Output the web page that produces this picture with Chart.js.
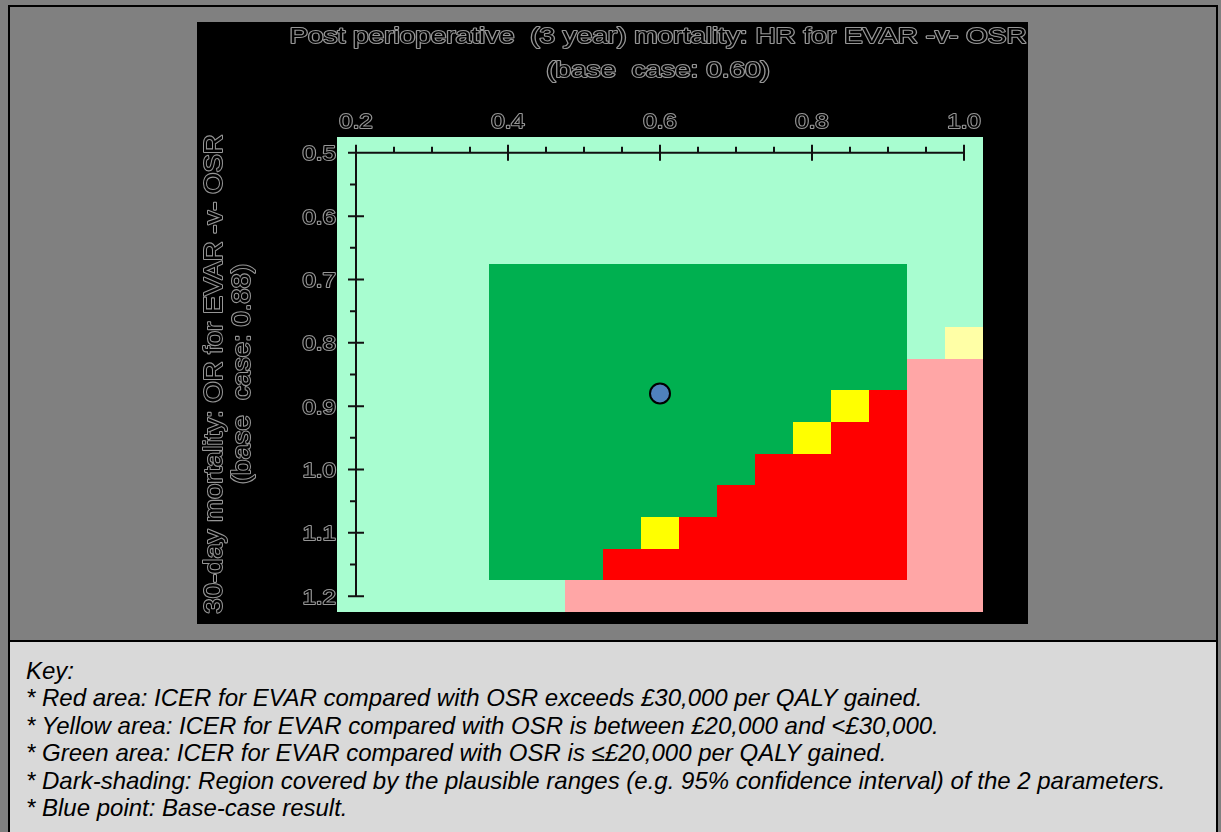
<!DOCTYPE html>
<html>
<head>
<meta charset="utf-8">
<script src="https://cdn.jsdelivr.net/npm/chart.js@4.4.0/dist/chart.umd.min.js"></script>
<style>
    html, body {
        margin: 0;
        padding: 0;
        width: 1221px;
        height: 832px;
        overflow: hidden;
        background: #808080;
        font-family: Arial, "Liberation Sans", sans-serif;
    }
    #frame {
        position: absolute;
        left: 8px;
        top: 5px;
        width: 1210px;
        height: 900px;
        box-sizing: border-box;
        border: 2px solid #000;
        background: #808080;
    }
    #chartBox {
        position: absolute;
        left: 197px;
        top: 22px;
        width: 831px;
        height: 602px;
        background: #000;
    }
    #key {
        position: absolute;
        left: 10px;
        top: 640px;
        width: 1206px;
        height: 200px;
        background: #d9d9d9;
        border-top: 2px solid #000;
        box-sizing: border-box;
        padding: 14.5px 0 0 16px;
        font-style: italic;
        font-size: 24px;
        line-height: 27.6px;
        color: #000;
        white-space: nowrap;
    }
</style>
</head>
<body>
<div id="frame"></div>
<div id="chartBox"><canvas id="chart" width="831" height="602"></canvas></div>
<div id="key">
    Key:<br>
    * Red area: ICER for EVAR compared with OSR exceeds £30,000 per QALY gained.<br>
    * Yellow area: ICER for EVAR compared with OSR is between £20,000 and &lt;£30,000.<br>
    * Green area: ICER for EVAR compared with OSR is ≤£20,000 per QALY gained.<br>
    * Dark-shading: Region covered by the plausible ranges (e.g. 95% confidence interval) of the 2 parameters.<br>
    * Blue point: Base-case result.
</div>
<script>
// Valores de los ejes (centros de las celdas)
const xValues = [0.2, 0.25, 0.3, 0.35, 0.4, 0.45, 0.5, 0.55, 0.6, 0.65, 0.7, 0.75, 0.8, 0.85, 0.9, 0.95, 1.0];
const yValues = [0.5, 0.55, 0.6, 0.65, 0.7, 0.75, 0.8, 0.85, 0.9, 0.95, 1.0, 1.05, 1.1, 1.15, 1.2];

// Etiquetas de los ejes
const xTicks = [0.2, 0.4, 0.6, 0.8, 1.0];
const yTicks = [0.5, 0.6, 0.7, 0.8, 0.9, 1.0, 1.1, 1.2];

// Resultado de cada celda, una fila por valor de y
// g = verde, y = amarillo, r = rojo; mayúscula = zona sombreada (rango plausible)
const cellRows = [
    'ggggggggggggggggg',
    'ggggggggggggggggg',
    'ggggggggggggggggg',
    'ggggggggggggggggg',
    'ggggGGGGGGGGGGGgg',
    'ggggGGGGGGGGGGGgg',
    'ggggGGGGGGGGGGGgy',
    'ggggGGGGGGGGGGGrr',
    'ggggGGGGGGGGGYRrr',
    'ggggGGGGGGGGYRRrr',
    'ggggGGGGGGGRRRRrr',
    'ggggGGGGGGRRRRRrr',
    'ggggGGGGYRRRRRRrr',
    'ggggGGGRRRRRRRRrr',
    'ggggggrrrrrrrrrrr'
];

// Caso base
const baseX = [0.60];
const baseY = [0.88];

// Textos
const titleLines = ['Post perioperative  (3 year) mortality: HR for EVAR -v- OSR', '(base  case: 0.60)'];
const yTitleLines = ['30-day mortality: OR for EVAR -v- OSR', '(base  case: 0.88)'];

const cellColors = {
    g: '#a8fdd0',
    G: '#00b050',
    y: '#ffffa6',
    Y: '#ffff00',
    r: '#ffa6a6',
    R: '#ff0000'
};

// Texto hueco: contorno gris con relleno negro
function outlinedText(ctx, text, x, y, size, stretch, align, rotate) {
    ctx.save();
    ctx.translate(x, y);
    if (rotate) ctx.rotate(rotate);
    ctx.scale(stretch, 1);
    ctx.font = size + 'px Arial, "Liberation Sans", sans-serif';
    ctx.textAlign = align;
    ctx.textBaseline = 'alphabetic';
    ctx.lineJoin = 'round';
    ctx.lineWidth = 2;
    ctx.strokeStyle = '#969696';
    ctx.strokeText(text, 0, 0);
    ctx.fillStyle = '#000';
    ctx.fillText(text, 0, 0);
    ctx.restore();
}

const heatmapPlugin = {
    id: 'heatmap',
    beforeDatasetsDraw(chart) {
        const ctx = chart.ctx;
        const xs = chart.scales.x;
        const ys = chart.scales.y;
        const area = chart.chartArea;

        // Títulos
        titleLines.forEach((t, i) => outlinedText(ctx, t, 461, 21 + i * 34, 21.5, 1.3, 'center'));
        yTitleLines.forEach((t, i) => outlinedText(ctx, t, 25 + i * 28, 352, 25, 1.1, 'center', -Math.PI / 2));

        // Etiquetas de los ejes
        xTicks.forEach(v => outlinedText(ctx, v.toFixed(1), xs.getPixelForValue(v), 106, 21, 1.15, 'center'));
        yTicks.forEach(v => outlinedText(ctx, v.toFixed(1), area.left - 1, ys.getPixelForValue(v) + 7.5, 21, 1.15, 'right'));

        // Celdas
        const hx = (xValues[1] - xValues[0]) / 2;
        const hy = (yValues[1] - yValues[0]) / 2;
        ctx.save();
        cellRows.forEach((row, i) => {
            const yv = yValues[i];
            const y0 = Math.round(ys.getPixelForValue(yv - hy));
            const y1 = Math.round(ys.getPixelForValue(yv + hy));
            row.split('').forEach((code, j) => {
                const xv = xValues[j];
                const x0 = Math.round(xs.getPixelForValue(xv - hx));
                const x1 = Math.round(xs.getPixelForValue(xv + hx));
                ctx.fillStyle = cellColors[code];
                ctx.fillRect(x0, y0, x1 - x0, y1 - y0);
            });
        });

        // Ejes dentro del área del gráfico
        const ox = xs.getPixelForValue(xValues[0]);
        const oy = ys.getPixelForValue(yValues[0]);
        ctx.strokeStyle = '#111';
        ctx.lineWidth = 2;
        ctx.beginPath();
        ctx.moveTo(ox, oy);
        ctx.lineTo(xs.getPixelForValue(xValues[xValues.length - 1]), oy);
        ctx.moveTo(ox, oy);
        ctx.lineTo(ox, ys.getPixelForValue(yValues[yValues.length - 1]));
        xValues.forEach(v => {
            const px = xs.getPixelForValue(v);
            const major = xTicks.some(t => Math.abs(t - v) < 1e-9);
            ctx.moveTo(px, oy - (major ? 8 : 6));
            ctx.lineTo(px, oy + (major ? 8 : 0));
        });
        yValues.forEach(v => {
            const py = ys.getPixelForValue(v);
            const major = yTicks.some(t => Math.abs(t - v) < 1e-9);
            ctx.moveTo(ox - (major ? 8 : 6), py);
            ctx.lineTo(ox + (major ? 8 : 0), py);
        });
        ctx.stroke();
        ctx.restore();
    }
};

new Chart(document.getElementById('chart'), {
    type: 'scatter',
    data: {
        datasets: [{
            data: baseX.map((x, i) => ({ x: x, y: baseY[i] })),
            pointRadius: 10,
            pointHoverRadius: 10,
            backgroundColor: '#4f81bd',
            borderColor: '#000',
            borderWidth: 2
        }]
    },
    options: {
        responsive: false,
        animation: false,
        devicePixelRatio: 1,
        layout: {
            padding: { left: 140, right: 45, top: 115, bottom: 7 }
        },
        plugins: {
            legend: { display: false },
            tooltip: { enabled: false }
        },
        scales: {
            x: { type: 'linear', min: 0.175, max: 1.025, display: false },
            y: { type: 'linear', min: 0.475, max: 1.225, reverse: true, display: false }
        }
    },
    plugins: [heatmapPlugin]
});
</script>
</body>
</html>
